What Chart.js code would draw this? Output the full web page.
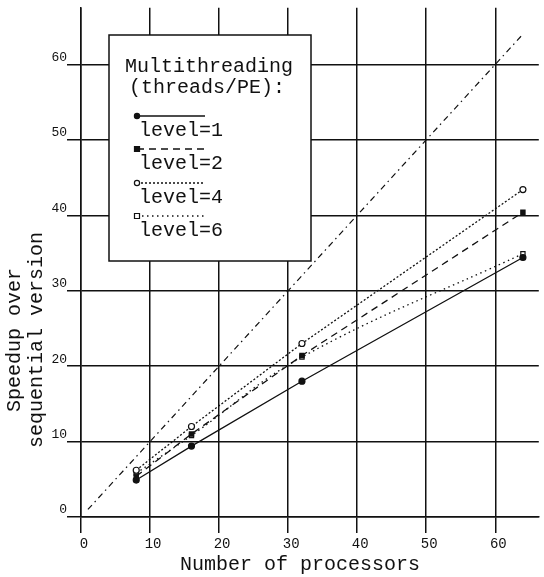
<!DOCTYPE html>
<html>
<head>
<meta charset="utf-8">
<script src="https://cdn.jsdelivr.net/npm/chart.js@4"></script>
<style>
  html, body { margin: 0; background: #fff; }
  #wrap { width: 544px; height: 577px; }
</style>
</head>
<body>
<div id="wrap"><canvas id="chart"></canvas></div>
<script>
// values
const processors = [8, 16, 32, 64];
const level1 = [4.9, 9.4, 18.0, 34.4];
const level2 = [5.4, 11.0, 21.4, 40.4];
const level4 = [6.2, 12.0, 23.0, 43.4];
const level6 = [5.8, 10.8, 21.2, 34.9];
const idealX = [1, 64];
const idealY = [1, 64];

const seriesNames = ["level=1", "level=2", "level=4", "level=6"];
const legendTitle = ["Multithreading", "(threads/PE):"];
const xTitle = "Number of processors";
const yTitle = ["Speedup over", "sequential version"];

const ink = "#111";
const mono = '"Liberation Mono", "DejaVu Sans Mono", monospace';

function points(xs, ys) {
    return xs.map((x, i) => ({ x: x, y: ys[i] }));
}

function series(label, values, dash, pointStyle, hollow, tension = 0) {
    return {
        label: label,
        data: points(processors, values),
        borderColor: ink,
        borderWidth: 1.3,
        borderDash: dash,
        tension: tension,
        pointStyle: pointStyle,
        pointRadius: 3,
        pointBorderWidth: 1.2,
        pointBorderColor: ink,
        pointBackgroundColor: hollow ? "#fff" : ink,
        fill: false
    };
}

let datasets = [
    series(seriesNames[0], level1, [], "circle", false),
    series(seriesNames[1], level2, [7, 5], "rect", false),
    series(seriesNames[2], level4, [2, 2], "circle", true),
    series(seriesNames[3], level6, [1.5, 3.5], "rect", true, 0.4),
    {
        label: "ideal",
        data: points(idealX, idealY),
        borderColor: ink,
        borderWidth: 1.2,
        borderDash: [6, 4, 1.5, 4],
        pointRadius: 0,
        fill: false
    }
];

function drawMarker(ctx, ds, x, y) {
    ctx.save();
    ctx.setLineDash([]);
    ctx.lineWidth = 1.2;
    ctx.strokeStyle = ink;
    ctx.fillStyle = ds.pointBackgroundColor;
    ctx.beginPath();
    if (ds.pointStyle == "rect") ctx.rect(x - 2.5, y - 2.5, 5, 5);
    else ctx.arc(x, y, 2.6, 0, Math.PI * 2);
    ctx.fill();
    ctx.stroke();
    ctx.restore();
}

// boxed legend: title on top, each sample line above its label
const boxLegend = {
    id: "boxLegend",
    afterDatasetsDraw(chart) {
        const ctx = chart.ctx;
        ctx.save();
        ctx.fillStyle = "#fff";
        ctx.fillRect(109, 35, 202, 226);
        ctx.strokeStyle = ink;
        ctx.lineWidth = 1.5;
        ctx.strokeRect(109, 35, 202, 226);

        ctx.fillStyle = ink;
        ctx.font = "20px " + mono;
        ctx.textBaseline = "middle";
        ctx.fillText(legendTitle[0], 125, 67);
        ctx.fillText(legendTitle[1], 129, 88);

        const lineY = [116, 149, 183, 216];
        for (let i = 0; i < 4; i++) {
            let ds = chart.data.datasets[i];
            ctx.save();
            ctx.strokeStyle = ink;
            ctx.lineWidth = ds.borderWidth;
            ctx.setLineDash(ds.borderDash);
            ctx.beginPath();
            ctx.moveTo(137, lineY[i]);
            ctx.lineTo(205, lineY[i]);
            ctx.stroke();
            ctx.restore();
            drawMarker(ctx, ds, 137, lineY[i]);
            ctx.fillText(ds.label, 139, lineY[i] + 15);
        }
        ctx.restore();
    }
};

// axis titles placed where the scan has them
const axisTitles = {
    id: "axisTitles",
    afterDraw(chart) {
        const ctx = chart.ctx;
        ctx.save();
        ctx.fillStyle = ink;
        ctx.font = "20px " + mono;
        ctx.textAlign = "center";
        ctx.textBaseline = "middle";
        ctx.fillText(xTitle, 300, 565);
        ctx.translate(15, 340);
        ctx.rotate(-Math.PI / 2);
        ctx.fillText(yTitle[0], 0, 0);
        ctx.fillText(yTitle[1], 0, 22);
        ctx.restore();
    }
};

let config = {
    type: "line",
    data: { datasets: datasets },
    options: {
        animation: false,
        responsive: true,
        maintainAspectRatio: false,
        layout: { padding: { top: 5, right: 2, left: 0, bottom: 0 } },
        plugins: { legend: { display: false }, tooltip: { enabled: false } },
        scales: {
            x: {
                type: "linear",
                min: 0,
                max: 66.3,
                afterFit: s => { s.height = 60; },
                grid: { color: ink, lineWidth: 1.5, tickLength: 16 },
                border: { color: ink, width: 1.5 },
                ticks: {
                    stepSize: 10,
                    includeBounds: false,
                    maxRotation: 0,
                    color: ink,
                    padding: 3,
                    labelOffset: 3,
                    font: { family: mono, size: 14 }
                }
            },
            y: {
                type: "linear",
                min: 0,
                max: 67.5,
                afterFit: s => { s.width = 81; },
                grid: { color: ink, lineWidth: 1.5, tickLength: 14 },
                border: { color: ink, width: 1.5 },
                ticks: {
                    stepSize: 10,
                    includeBounds: false,
                    color: ink,
                    padding: 0,
                    labelOffset: -7,
                    font: { family: mono, size: 13 }
                }
            }
        }
    },
    plugins: [boxLegend, axisTitles]
};

new Chart(document.getElementById("chart"), config);
</script>
</body>
</html>
